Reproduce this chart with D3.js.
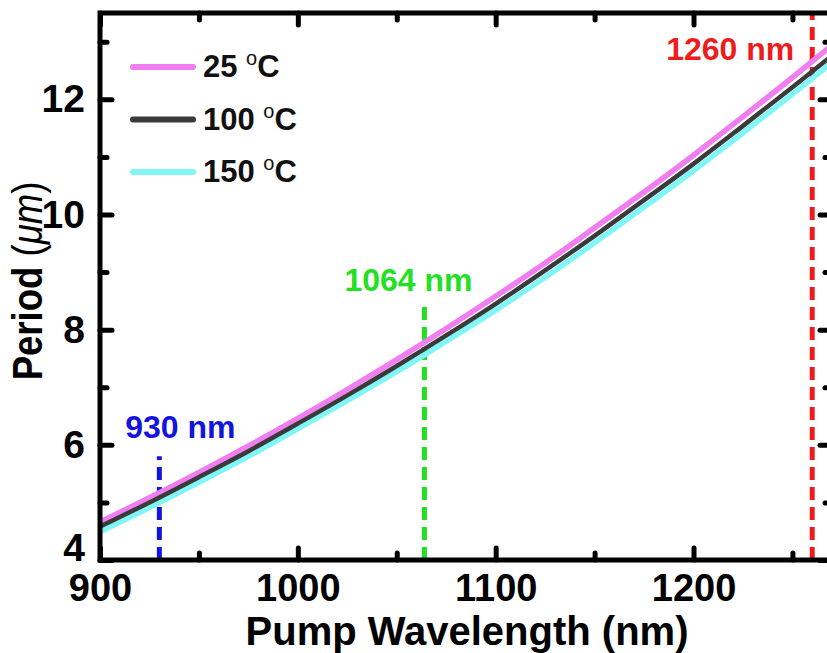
<!DOCTYPE html>
<html>
<head>
<meta charset="utf-8">
<script src="https://cdn.jsdelivr.net/npm/d3@7/dist/d3.min.js"></script>
<style>
  body { margin: 0; background: #fff; }
  text { font-family: "Liberation Sans", Arial, sans-serif; font-weight: bold; }
  .axis line { stroke: #000; stroke-width: 5; stroke-linecap: round; }
  .axis path { display: none; }
</style>
</head>
<body>
<div id="chart"></div>
<script>
// pump wavelength (nm) and QPM period (um)
const wavelengths = [900, 925, 950, 975, 1000, 1025, 1050, 1075, 1100, 1125, 1150, 1175, 1200, 1225, 1250, 1270];
const period25  = [4.66, 5.08, 5.52, 5.98, 6.46, 6.96, 7.48, 8.02, 8.58, 9.16, 9.77, 10.39, 11.03, 11.70, 12.38, 12.94];
const period100 = [4.58, 5.00, 5.44, 5.89, 6.37, 6.86, 7.37, 7.90, 8.45, 9.03, 9.63, 10.25, 10.88, 11.54, 12.21, 12.76];
const period150 = [4.49, 4.91, 5.35, 5.80, 6.28, 6.77, 7.27, 7.80, 8.34, 8.91, 9.51, 10.13, 10.76, 11.42, 12.09, 12.64];
const seriesNames = ["25", "100", "150"];

const xTicks = [900, 1000, 1100, 1200];
const xMinor = [950, 1050, 1150, 1250];
const yTicks = [4, 6, 8, 10, 12];
const yMinor = [5, 7, 9, 11, 13];

// marked pump wavelengths and how high their dashed line goes
const markerNm = [930, 1064, 1260];
const markerTop = [5.8, 8.5, 13.5];
const markerLabels = ["930 nm", "1064 nm", "1260 nm"];

const seriesColors = ["#f07ef0", "#3a3a3a", "#80f6f6"];
const markerColors = ["#1414e0", "#22e022", "#ee1c1c"];

const width = 827, height = 653;
const margin = { top: 13, left: 100 };
const plotW = 732, plotH = 547;

const svg = d3.select("#chart").append("svg")
    .attr("width", width)
    .attr("height", height);

const g = svg.append("g").attr("transform", "translate(" + margin.left + "," + margin.top + ")");

const x = d3.scaleLinear().domain([900, 1270]).range([0, plotW]);
const y = d3.scaleLinear().domain([4, 13.5]).range([plotH, 0]);

g.append("clipPath").attr("id", "plotclip")
  .append("rect").attr("width", plotW).attr("height", plotH);

// dashed markers
markerNm.forEach(function (nm, i) {
    g.append("line")
        .attr("x1", x(nm)).attr("x2", x(nm))
        .attr("y1", y(4)).attr("y2", y(markerTop[i]))
        .attr("stroke", markerColors[i])
        .attr("stroke-width", 5)
        .attr("stroke-dasharray", "13,7");
});

// curves
const line = d3.line()
    .x(function (d) { return x(d[0]); })
    .y(function (d) { return y(d[1]); })
    .curve(d3.curveMonotoneX);

const series = [period25, period100, period150];
[2, 0, 1].forEach(function (k) {
    g.append("path")
        .attr("clip-path", "url(#plotclip)")
        .attr("d", line(wavelengths.map(function (w, i) { return [w, series[k][i]]; })))
        .attr("fill", "none")
        .attr("stroke", seriesColors[k])
        .attr("stroke-width", k === 1 ? 4.5 : 5.5);
});

// marker labels
const labelDx = [21, -16, -82];
const labelDy = [-18, -10, 47];
markerNm.forEach(function (nm, i) {
    g.append("text")
        .attr("x", x(nm) + labelDx[i])
        .attr("y", y(markerTop[i]) + labelDy[i])
        .attr("text-anchor", "middle")
        .attr("font-size", 32)
        .attr("fill", markerColors[i])
        .text(markerLabels[i]);
});

// axes with inward ticks
const fs = 38;
g.append("g").attr("class", "axis")
    .attr("transform", "translate(0," + plotH + ")")
    .call(d3.axisBottom(x).tickValues(xTicks).tickSize(-12).tickPadding(14).tickFormat(d3.format("d")))
    .selectAll("text").attr("font-size", fs).attr("fill", "#000").attr("font-family", null);
g.append("g").attr("class", "axis")
    .attr("transform", "translate(0," + plotH + ")")
    .call(d3.axisBottom(x).tickValues(xMinor).tickSize(-7).tickFormat(""));
g.append("g").attr("class", "axis")
    .call(d3.axisTop(x).tickValues(xTicks).tickSize(-12).tickFormat(""));
g.append("g").attr("class", "axis")
    .call(d3.axisTop(x).tickValues(xMinor).tickSize(-7).tickFormat(""));

g.append("g").attr("class", "axis")
    .call(d3.axisLeft(y).tickValues(yTicks).tickSize(-12).tickPadding(15).tickFormat(d3.format("d")))
    .selectAll("text").attr("font-size", fs + 1).attr("fill", "#000").attr("font-family", null)
    .attr("dy", function (d) { return d === 4 ? "0.02em" : "0.32em"; });
g.append("g").attr("class", "axis")
    .call(d3.axisLeft(y).tickValues(yMinor).tickSize(-7).tickFormat(""));
g.append("g").attr("class", "axis")
    .attr("transform", "translate(" + plotW + ",0)")
    .call(d3.axisRight(y).tickValues(yTicks).tickSize(-12).tickFormat(""));
g.append("g").attr("class", "axis")
    .attr("transform", "translate(" + plotW + ",0)")
    .call(d3.axisRight(y).tickValues(yMinor).tickSize(-7).tickFormat(""));

// frame
g.append("rect")
    .attr("width", plotW).attr("height", plotH)
    .attr("fill", "none").attr("stroke", "#000").attr("stroke-width", 5);

// legend
const legend = g.append("g").attr("transform", "translate(33,54)");
seriesNames.forEach(function (name, i) {
    const row = legend.append("g").attr("transform", "translate(0," + i * 52.5 + ")");
    row.append("line").attr("x1", 0).attr("x2", 60)
        .attr("stroke", seriesColors[i]).attr("stroke-width", 6).attr("stroke-linecap", "round");
    const t = row.append("text").attr("x", 70).attr("y", 10).attr("font-size", 31).attr("fill", "#111");
    t.append("tspan").text(name + " ");
    t.append("tspan").attr("font-size", 20).attr("font-weight", "normal").attr("dy", -12).text("o");
    t.append("tspan").attr("dy", 12).text("C");
});

// axis titles
svg.append("text")
    .attr("x", margin.left + 367)
    .attr("y", 645)
    .attr("text-anchor", "middle")
    .attr("font-size", 40)
    .text("Pump Wavelength (nm)");

const yt = svg.append("text")
    .attr("transform", "translate(42,281) rotate(-90) scale(0.87,1)")
    .attr("text-anchor", "middle")
    .attr("font-size", 42);
yt.append("tspan").text("Period ");
yt.append("tspan").attr("font-weight", "normal").text("(");
yt.append("tspan").attr("font-weight", "normal").attr("font-style", "italic").text("\u03bcm");
yt.append("tspan").attr("font-weight", "normal").text(")");
</script>
</body>
</html>
